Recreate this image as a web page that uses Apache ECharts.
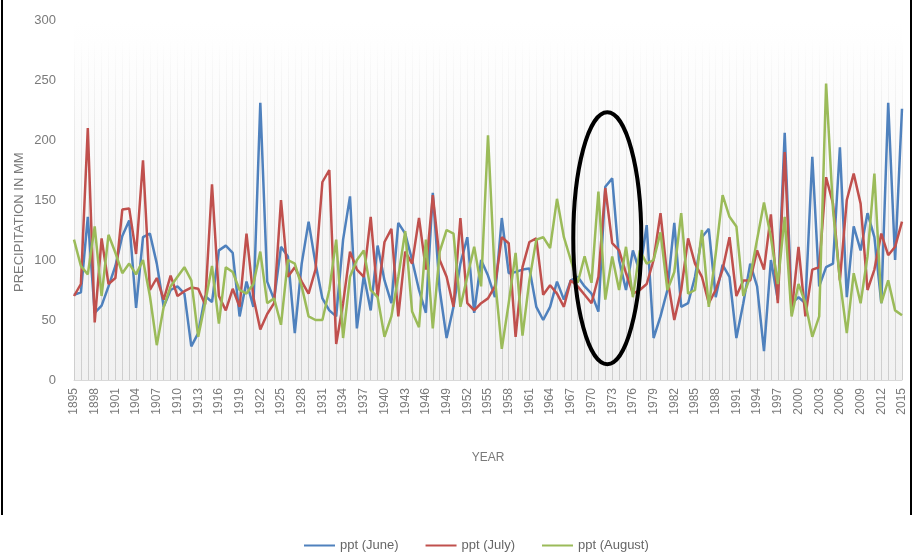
<!DOCTYPE html>
<html>
<head>
<meta charset="utf-8">
<script src="https://cdn.jsdelivr.net/npm/echarts@6/dist/echarts.min.js"></script>
<style>
html,body{margin:0;padding:0;background:#fff;}
#c{width:913px;height:552px;}
</style>
</head>
<body>
<div id="c"></div>
<script>
var years = [];
for (var y = 1895; y <= 2015; y++) years.push(String(y));

var yTicks = [0, 50, 100, 150, 200, 250, 300];

var june = [71,73,136,56,62,78,95,120,133,60,119,122,97,61,75,78,72,28,39,70,
65,108,112,106,53,82,61,231,82,67,111,103,39,97,132,97,68,58,53,117,
153,43,87,58,112,83,64,131,122,100,75,56,156,75,35,61,97,119,56,100,
87,69,135,89,90,92,93,61,50,61,82,67,83,86,78,72,57,161,168,100,
75,108,90,129,35,53,75,131,61,64,86,119,126,69,96,86,35,64,97,78,
24,100,67,206,64,69,64,186,78,94,97,194,69,128,108,139,119,64,231,100,226];

var july = [70,80,210,48,118,80,85,142,143,105,183,75,85,67,87,70,74,77,76,63,
163,70,58,76,61,122,69,42,55,64,150,86,94,82,72,92,165,175,30,64,
107,92,86,136,69,115,126,53,107,97,135,92,154,100,86,61,135,64,58,64,
68,78,119,114,36,94,115,118,71,79,72,61,83,78,71,64,86,160,114,108,
89,72,75,80,100,139,85,50,75,118,97,86,64,75,92,119,70,83,83,108,
92,138,64,190,56,111,53,92,94,169,147,83,150,172,147,75,92,122,104,111,132];

var august = [117,95,88,128,70,121,106,89,97,88,100,70,29,61,78,86,94,83,36,64,
95,47,94,90,75,72,80,107,64,68,46,100,97,78,53,50,50,75,117,35,
86,100,108,75,69,36,53,86,124,57,44,117,43,107,125,122,61,86,111,78,
204,85,26,64,106,37,83,117,119,110,151,119,100,81,103,81,157,67,103,75,
111,69,108,97,100,123,75,90,139,72,75,125,61,105,154,136,128,70,86,117,
148,119,80,136,53,80,64,36,53,247,142,83,39,89,64,103,172,64,83,58,54];

var seriesNames = ['ppt (June)', 'ppt (July)', 'ppt (August)'];
var seriesColors = ['#4f81bd', '#c0504d', '#9bbb59'];
var seriesData = [june, july, august];

var chart = echarts.init(document.getElementById('c'), null, {renderer: 'canvas'});
var font = "'Liberation Sans', sans-serif";

var option = {
  backgroundColor: '#fff',
  animation: false,
  grid: {
    left: 74, right: 11, top: 20, bottom: 172,
    show: true, borderWidth: 0,
    backgroundColor: {
      type: 'linear', x: 0, y: 0, x2: 0, y2: 1,
      colorStops: [{offset: 0, color: '#ffffff'}, {offset: 1, color: '#f1f1f1'}]
    }
  },
  legend: {
    data: seriesNames,
    top: 534,
    left: 299,
    icon: 'rect',
    itemWidth: 31,
    itemHeight: 2,
    itemGap: 27,
    textStyle: {color: '#666666', fontSize: 13, fontFamily: font}
  },
  xAxis: {
    type: 'category',
    data: years,
    boundaryGap: false,
    name: 'YEAR',
    nameLocation: 'middle',
    nameGap: 72,
    nameTextStyle: {color: '#7a7a7a', fontSize: 12, fontFamily: font},
    axisLine: {show: true, lineStyle: {color: '#d9d9d9', width: 1}},
    axisTick: {show: false},
    axisLabel: {
      interval: 2, rotate: 90, margin: 8,
      color: '#7a7a7a', fontSize: 12, fontFamily: font
    },
    splitLine: {
      show: true, interval: 0,
      lineStyle: {
        width: 1,
        color: {
          type: 'linear', x: 0, y: 40, x2: 0, y2: 380, global: true,
          colorStops: [{offset: 0, color: 'rgba(215,215,215,0)'}, {offset: 0.35, color: 'rgba(215,215,215,0.6)'}, {offset: 1, color: 'rgba(205,205,205,1)'}]
        }
      }
    }
  },
  yAxis: {
    type: 'value',
    min: yTicks[0],
    max: yTicks[yTicks.length - 1],
    interval: 50,
    axisLine: {show: false},
    axisTick: {show: false},
    splitLine: {show: false},
    axisLabel: {color: '#7a7a7a', fontSize: 13, fontFamily: font, margin: 18}
  },
  series: seriesData.map(function (d, k) {
    return {
      name: seriesNames[k],
      type: 'line',
      data: d,
      symbol: 'none',
      lineStyle: {width: 2.5, color: seriesColors[k]},
      itemStyle: {color: seriesColors[k]},
      z: 3 + k
    };
  })
};
chart.setOption(option);

var c = chart.convertToPixel({xAxisIndex: 0, yAxisIndex: 0}, ['1972', 119]);
chart.setOption({
  graphic: [
    {
      type: 'text', rotation: Math.PI / 2,
      style: {text: 'PRECIPITATION IN MM', fill: '#7a7a7a', fontSize: 13, fontFamily: font},
      x: 13, y: 292
    },
    {
      type: 'ellipse',
      shape: {cx: c[0] + 2, cy: c[1] + 1, rx: 34, ry: 126},
      style: {fill: 'none', stroke: '#000', lineWidth: 4},
      z: 100
    },
    {
      type: 'line', shape: {x1: 2, y1: 0, x2: 2, y2: 515},
      style: {stroke: '#000', lineWidth: 2}, z: 100
    },
    {
      type: 'line', shape: {x1: 911, y1: 0, x2: 911, y2: 515},
      style: {stroke: '#000', lineWidth: 2}, z: 100
    }
  ]
});
</script>
</body>
</html>
